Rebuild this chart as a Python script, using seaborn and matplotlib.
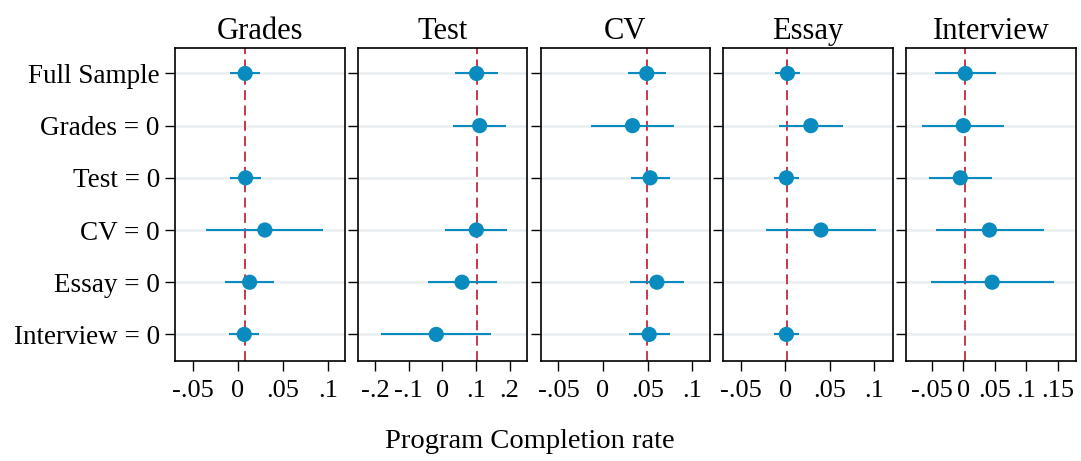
import numpy as np
import pandas as pd
import matplotlib
matplotlib.use("Agg")
import matplotlib.pyplot as plt
import seaborn as sns

# rows (subsamples) and panels (outcome models)
rows = ["Full Sample", "Grades = 0", "Test = 0", "CV = 0", "Essay = 0", "Interview = 0"]
panels = ["Grades", "Test", "CV", "Essay", "Interview"]

# point estimates per panel, None = not estimated
est_grades = [0.008, None, 0.0085, 0.030, 0.013, 0.007]
est_test = [0.102, 0.111, None, 0.101, 0.0585, -0.018]
est_cv = [0.049, 0.033, 0.0528, None, 0.0603, 0.0517]
est_essay = [0.0023, 0.0286, 0.0011, 0.040, None, 0.0011]
est_interview = [0.0032, 0.000, -0.0048, 0.0414, 0.0457, None]

# lower / upper confidence bounds
lo_grades = [-0.0086, None, -0.0086, -0.0352, -0.0141, -0.0104]
hi_grades = [0.0248, None, 0.0255, 0.0952, 0.040, 0.024]
lo_test = [0.0387, 0.0327, None, 0.008, -0.043, -0.182]
hi_test = [0.1655, 0.190, None, 0.193, 0.161, 0.146]
lo_cv = [0.0285, -0.0135, 0.0315, None, 0.0303, 0.0296]
hi_cv = [0.070, 0.079, 0.0746, None, 0.0903, 0.0746]
lo_essay = [-0.012, -0.0072, -0.0128, -0.0214, None, -0.0128]
hi_essay = [0.0161, 0.065, 0.015, 0.1016, None, 0.0158]
lo_interview = [-0.0446, -0.0648, -0.054, -0.0435, -0.051, None]
hi_interview = [0.052, 0.0642, 0.0457, 0.1274, 0.1433, None]

# x ticks per panel
ticks_grades = [-0.05, 0, 0.05, 0.1]
ticks_test = [-0.2, -0.1, 0, 0.1, 0.2]
ticks_cv = [-0.05, 0, 0.05, 0.1]
ticks_essay = [-0.05, 0, 0.05, 0.1]
ticks_interview = [-0.05, 0, 0.05, 0.1, 0.15]
tick_labels_grades = ["-.05", "0", ".05", ".1"]
tick_labels_test = ["-.2", "-.1", "0", ".1", ".2"]
tick_labels_cv = ["-.05", "0", ".05", ".1"]
tick_labels_essay = ["-.05", "0", ".05", ".1"]
tick_labels_interview = ["-.05", "0", ".05", ".1", ".15"]

ests = [est_grades, est_test, est_cv, est_essay, est_interview]
los = [lo_grades, lo_test, lo_cv, lo_essay, lo_interview]
his = [hi_grades, hi_test, hi_cv, hi_essay, hi_interview]
ticks = [ticks_grades, ticks_test, ticks_cv, ticks_essay, ticks_interview]
tlabels = [tick_labels_grades, tick_labels_test, tick_labels_cv,
           tick_labels_essay, tick_labels_interview]
xlims = [(-0.070, 0.119), (-0.251, 0.253), (-0.070, 0.120),
         (-0.070, 0.121), (-0.091, 0.178)]

recs = []
for p, e, l, h in zip(panels, ests, los, his):
    for i, r in enumerate(rows):
        if e[i] is not None:
            recs.append(dict(panel=p, row=r, pos=i, est=e[i], lo=l[i], hi=h[i]))
df = pd.DataFrame(recs)

sns.set_style("white")
plt.rcParams["font.family"] = ["Liberation Serif", "DejaVu Serif"]
plt.rcParams["text.color"] = "black"
plt.rcParams["xtick.color"] = "black"
plt.rcParams["ytick.color"] = "black"

blue = "#0a8bc0"
red = "#c22a3e"

fig, axes = plt.subplots(1, 5, figsize=(10.81, 4.61), dpi=100)
fig.subplots_adjust(left=0.162, right=0.995, top=0.895, bottom=0.218, wspace=0.077)

for k, (ax, p) in enumerate(zip(axes, panels)):
    d = df[df.panel == p]
    full = d[d.row == rows[0]].est.iloc[0]
    for y in range(len(rows)):
        ax.axhline(y, color="#e9eff1", lw=1.8, zorder=0)
    ax.axvline(full, color=red, lw=1.3, ls=(0, (5.5, 3)), zorder=1)
    ax.hlines(d.pos, d.lo, d.hi, color=blue, lw=1.5, zorder=2)
    sns.scatterplot(data=d, x="est", y="pos", ax=ax, color=blue, s=120,
                    edgecolor="none", zorder=3, legend=False)
    ax.set_xlim(*xlims[k])
    ax.set_ylim(len(rows) - 0.5, -0.48)
    ax.set_xticks(ticks[k])
    ax.set_xticklabels(tlabels[k])
    ax.set_yticks(range(len(rows)))
    if k == 0:
        ax.set_yticklabels(rows)
    else:
        ax.set_yticklabels([])
    ax.set_xlabel("")
    ax.set_ylabel("")
    ax.set_title(p, fontsize=22, pad=7, color="black")
    ax.tick_params(axis="x", direction="out", length=7, width=1.0,
                   labelsize=19, pad=7, bottom=True, colors="black")
    ax.tick_params(axis="y", direction="out", length=7, width=1.0,
                   labelsize=19.5, pad=4, left=True, colors="black")
    for s in ax.spines.values():
        s.set_color("black")
        s.set_linewidth(1.2)

fig.text(0.49, 0.043, "Program Completion rate", ha="center", va="center",
         fontsize=20.5, color="black")

fig.savefig("out.png", dpi=100)
